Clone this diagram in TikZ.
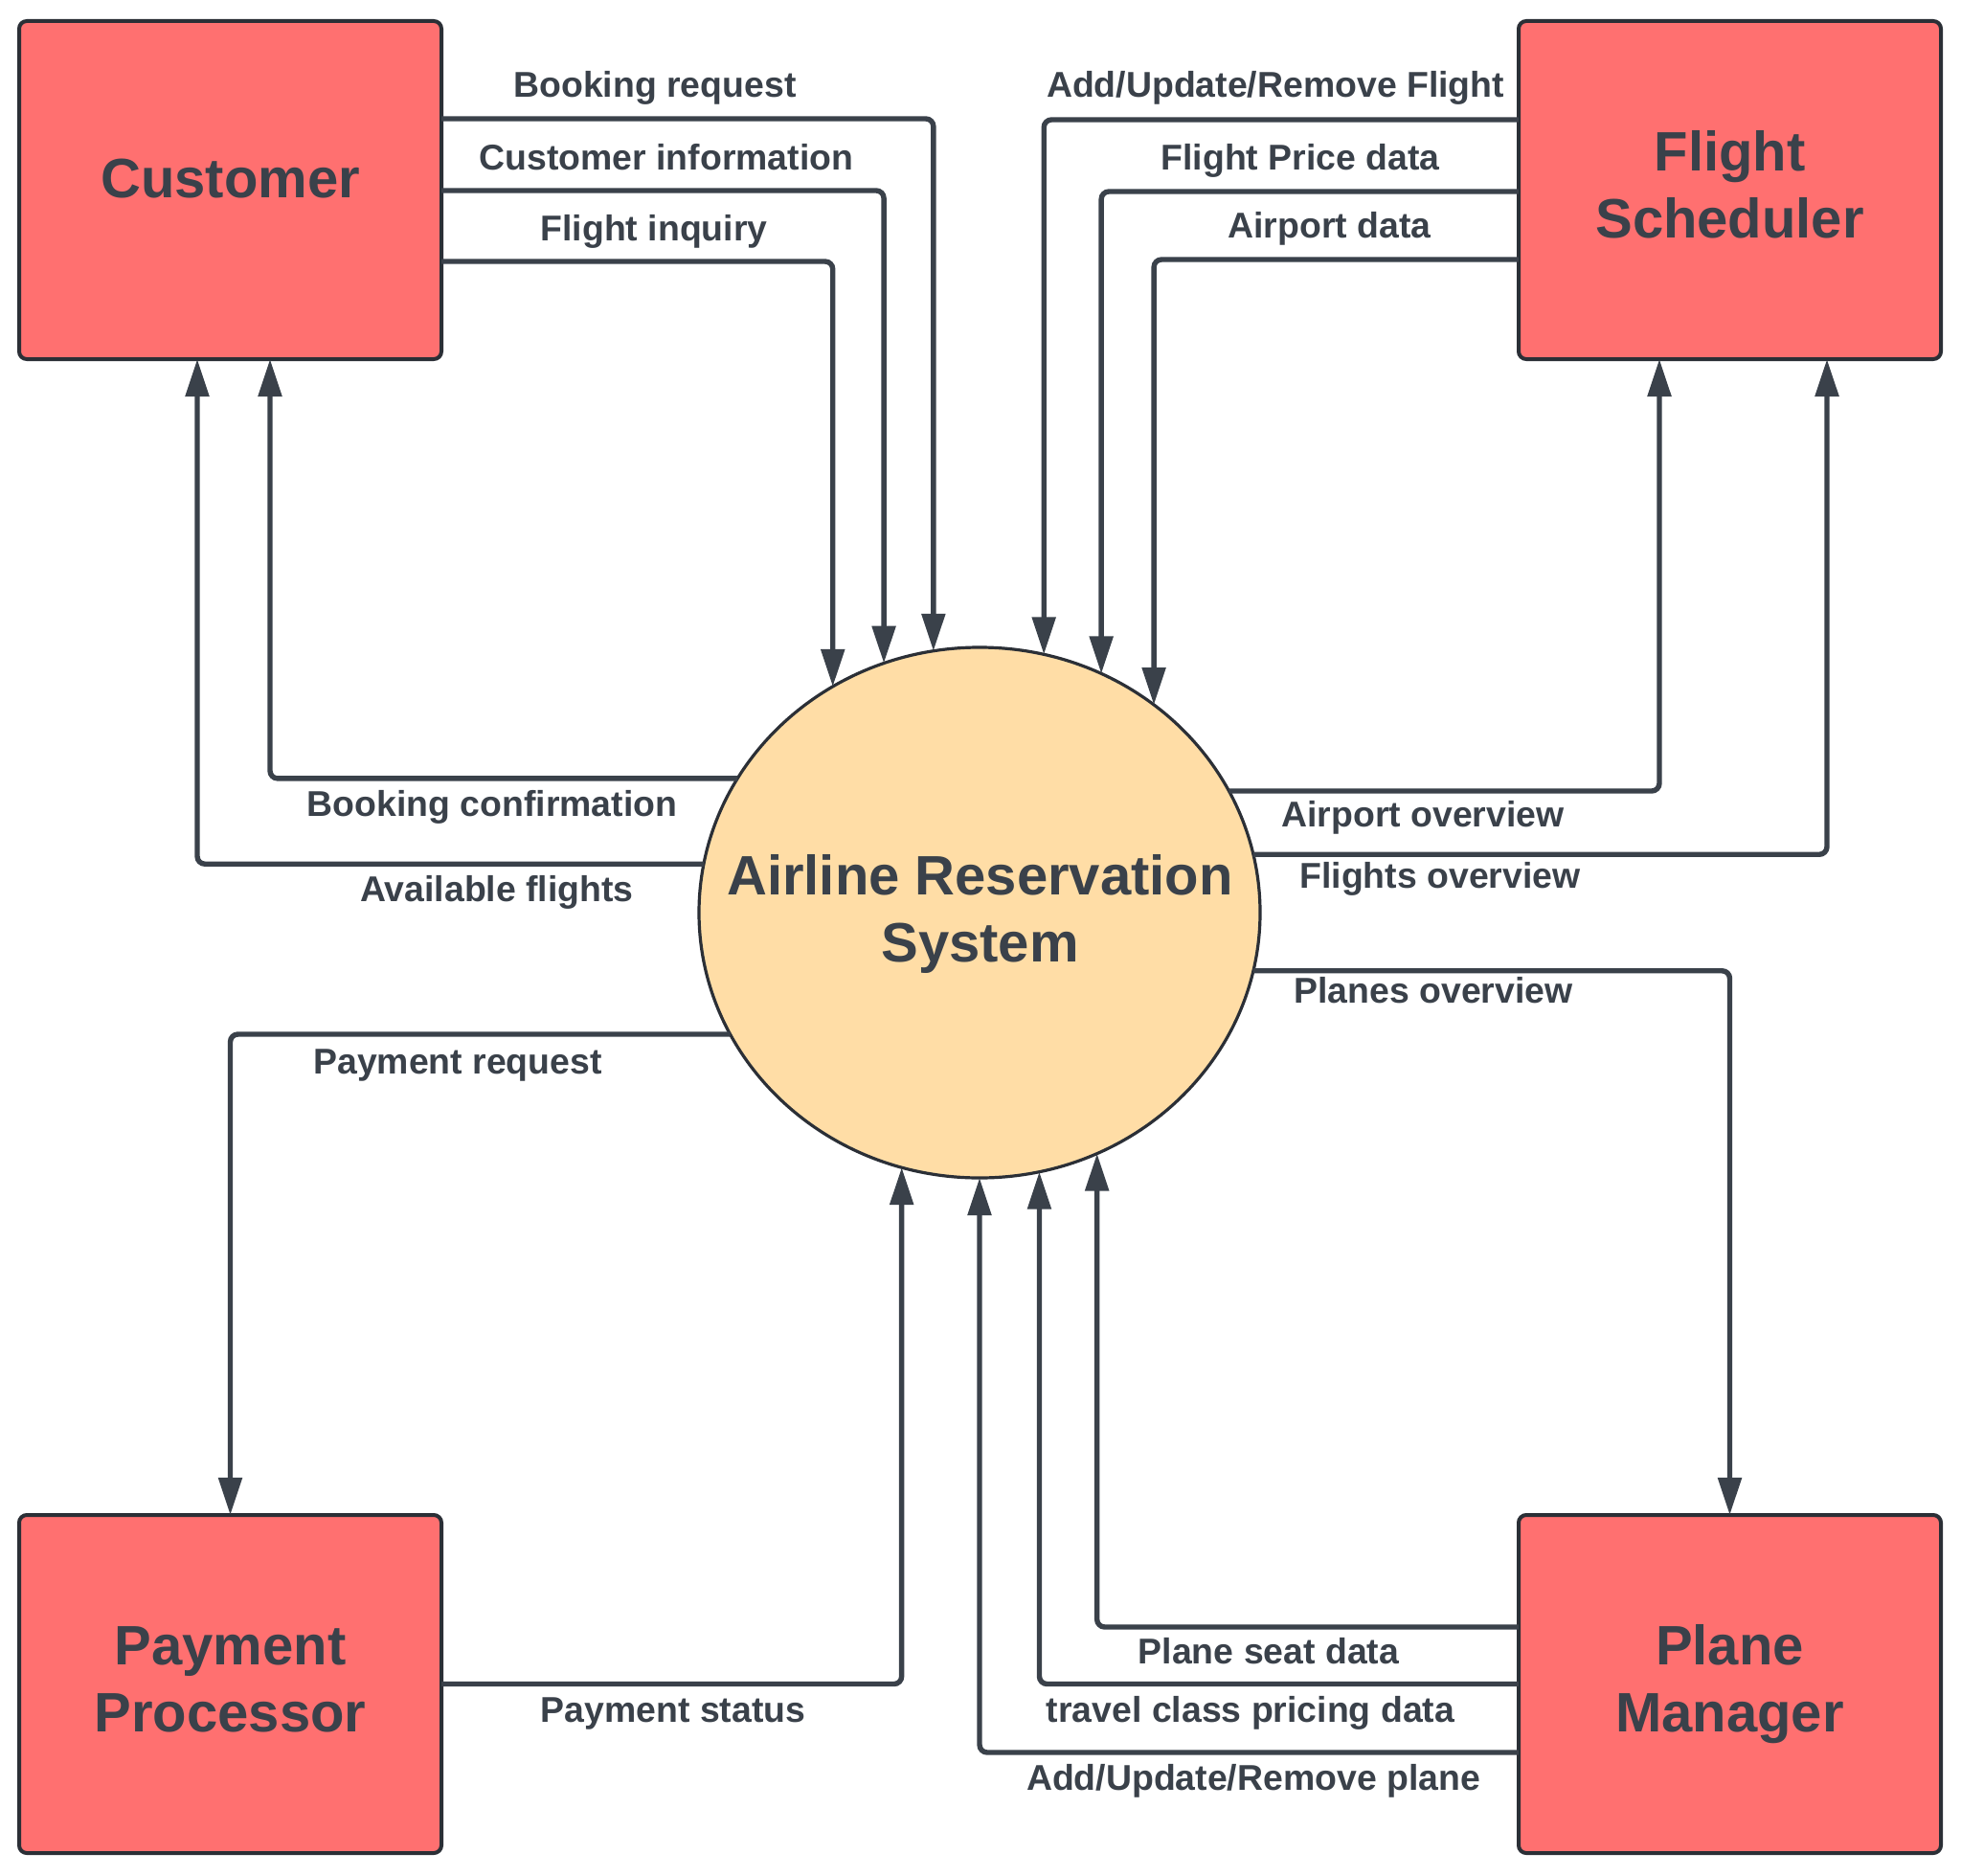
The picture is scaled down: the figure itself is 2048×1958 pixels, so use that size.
\documentclass[tikz,border=0pt]{standalone}
\usepackage{fontspec}
\setmainfont{Liberation Sans}
\usetikzlibrary{arrows.meta,shapes.geometric}
\definecolor{ink}{HTML}{3A414A}
\definecolor{edgec}{HTML}{2B2F36}
\definecolor{boxred}{HTML}{FF7070}
\definecolor{sysfill}{HTML}{FFDDA6}
\begin{document}
\begin{tikzpicture}[x=0.5pt,y=-0.5pt,
  entity/.style={draw=edgec, line width=2pt, fill=boxred, rounded corners=4pt,
    minimum width=220.5pt, minimum height=176.5pt, inner sep=0pt, outer sep=0pt},
  proc/.style={ellipse, draw=edgec, line width=1.6pt, fill=sysfill,
    minimum width=293pt, minimum height=277pt, inner sep=0pt, outer sep=0pt},
  title/.style={font=\fontsize{29}{35}\selectfont\bfseries, text=ink, anchor=base, inner sep=0pt},
  lbl/.style={font=\fontsize{18.7}{22}\selectfont\bfseries, text=ink, anchor=base, inner sep=0pt},
  flow/.style={draw=ink, line width=2.7pt, rounded corners=4pt,
    -{Triangle[length=19.5pt,width=12pt]}}]
\fill[white] (0,0) rectangle (2048,1958);
\useasboundingbox (0,0) rectangle (2048,1958);

% entities and process
\node[entity] (cust) at (240.5,198.5) {};
\node[entity] (fs) at (1806.5,198.5) {};
\node[entity] (pay) at (240.5,1758.5) {};
\node[entity] (pm) at (1806.5,1758.5) {};
\node[proc] (sys) at (1023,953) {};

% titles
\node[title] (custt) at (240.5,206) {Customer};
\node[title] (fst1) at (1806.5,179) {Flight};
\node[title] (fst2) at (1806.5,249) {Scheduler};
\node[title] (payt1) at (240.5,1738) {Payment};
\node[title] (payt2) at (240.5,1808.5) {Processor};
\node[title] (pmt1) at (1806.5,1738) {Plane};
\node[title] (pmt2) at (1806.5,1808.5) {Manager};
\node[title] (syst1) at (1023.5,934) {Airline Reservation};
\node[title] (syst2) at (1023.5,1004) {System};

% customer flows
\draw[flow] (cust.east |- 0,124) -| (sys.100.38);
\draw[flow] (cust.east |- 0,199) -| (sys.111.45);
\draw[flow] (cust.east |- 0,273) -| (sys.123.64);
\draw[flow] (sys.151.25) -| (cust.south -| 282,0);
\draw[flow] (sys.170.16) -| (cust.south -| 206,0);

% flight scheduler flows
\draw[flow] (fs.west |- 0,125) -| (sys.76.68);
\draw[flow] (fs.west |- 0,200) -| (sys.63.71);
\draw[flow] (fs.west |- 0,271) -| (sys.50.78);
\draw[flow] (sys.26.23) -| (fs.south -| 1733,0);
\draw[flow] (sys.12.96) -| (fs.south -| 1908,0);

% payment flows
\draw[flow] (sys.206.45) -| (pay.north);
\draw[flow] (pay.east) -| (sys.253.18);

% plane manager flows
\draw[flow] (sys.348.96) -| (pm.north);
\draw[flow] (pm.west |- 0,1699) -| (sys.296.52);
\draw[flow] (pm.west) -| (sys.283.32);
\draw[flow] (pm.west |- 0,1830) -| (sys.270.62);

% labels
\node[lbl] (l1) at (684,102) {Booking request};
\node[lbl] (l2) at (696,177) {Customer information};
\node[lbl] (l3) at (683,251) {Flight inquiry};
\node[lbl] (l4) at (514,852) {Booking confirmation};
\node[lbl] (l5) at (519,941) {Available flights};
\node[lbl] (l6) at (1332,102) {Add/Update/Remove Flight};
\node[lbl] (l7) at (1358,177) {Flight Price data};
\node[lbl] (l8) at (1388.5,249) {Airport data};
\node[lbl] (l9) at (1486,863) {Airport overview};
\node[lbl] (l10) at (1504,927) {Flights overview};
\node[lbl] (l11) at (478,1121) {Payment request};
\node[lbl] (l12) at (703,1798) {Payment status};
\node[lbl] (l13) at (1497,1047) {Planes overview};
\node[lbl] (l14) at (1325,1737) {Plane seat data};
\node[lbl] (l15) at (1306,1798) {travel class pricing data};
\node[lbl] (l16) at (1309,1869) {Add/Update/Remove plane};
\end{tikzpicture}
\end{document}
